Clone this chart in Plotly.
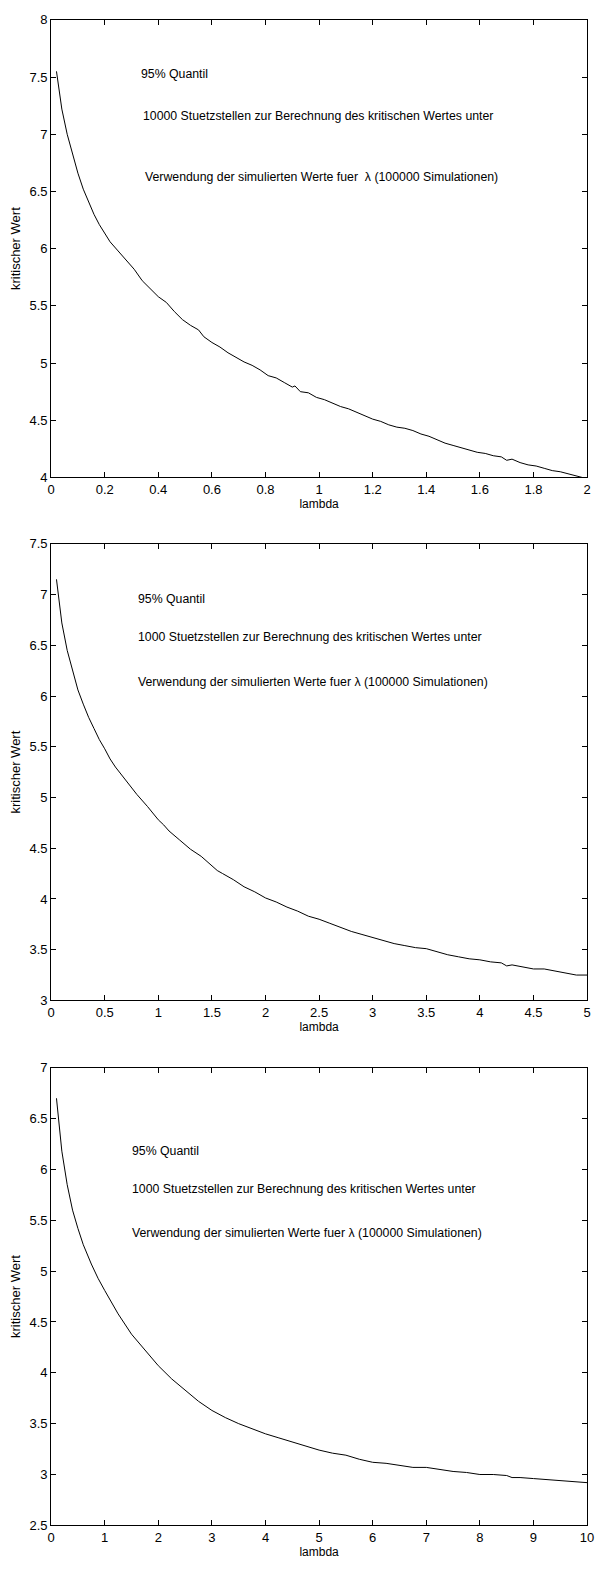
import plotly.graph_objects as go

# Critical value curves (95% quantile) against lambda, three lambda ranges
lam_a = [0.02, 0.04, 0.06, 0.08, 0.10, 0.12, 0.14, 0.16, 0.18, 0.20, 0.22, 0.25, 0.28,
         0.31, 0.34, 0.37, 0.40, 0.43, 0.46, 0.49, 0.52, 0.55, 0.57, 0.60, 0.63, 0.66,
         0.69, 0.72, 0.75, 0.78, 0.81, 0.84, 0.87, 0.90, 0.91, 0.93, 0.96, 0.99, 1.02,
         1.05, 1.08, 1.11, 1.14, 1.17, 1.20, 1.23, 1.26, 1.29, 1.32, 1.35, 1.38, 1.41,
         1.44, 1.47, 1.50, 1.53, 1.56, 1.59, 1.62, 1.65, 1.68, 1.70, 1.72, 1.75, 1.78,
         1.81, 1.84, 1.87, 1.90, 1.93, 1.96, 1.99]
krit_a = [7.55, 7.22, 7.00, 6.82, 6.66, 6.52, 6.41, 6.30, 6.21, 6.13, 6.06, 5.98, 5.90,
          5.82, 5.72, 5.65, 5.58, 5.53, 5.45, 5.38, 5.33, 5.29, 5.23, 5.18, 5.14, 5.09,
          5.05, 5.01, 4.98, 4.94, 4.89, 4.87, 4.83, 4.79, 4.80, 4.75, 4.74, 4.70, 4.68,
          4.65, 4.62, 4.60, 4.57, 4.54, 4.51, 4.49, 4.46, 4.44, 4.43, 4.41, 4.38, 4.36,
          4.33, 4.30, 4.28, 4.26, 4.24, 4.22, 4.21, 4.19, 4.18, 4.15, 4.16, 4.13, 4.11,
          4.10, 4.08, 4.06, 4.05, 4.03, 4.01, 3.995]

lam_b = [0.05, 0.1, 0.15, 0.2, 0.25, 0.3, 0.35, 0.4, 0.45, 0.5, 0.55, 0.6, 0.7, 0.8,
         0.9, 1.0, 1.05, 1.1, 1.2, 1.3, 1.4, 1.5, 1.55, 1.6, 1.7, 1.8, 1.9, 2.0, 2.1,
         2.2, 2.3, 2.4, 2.5, 2.6, 2.7, 2.8, 2.9, 3.0, 3.1, 3.2, 3.3, 3.4, 3.5, 3.6, 3.7,
         3.8, 3.9, 4.0, 4.1, 4.2, 4.25, 4.3, 4.4, 4.5, 4.6, 4.7, 4.8, 4.9, 5.0]
krit_b = [7.15, 6.72, 6.45, 6.25, 6.06, 5.92, 5.79, 5.68, 5.57, 5.48, 5.38, 5.30, 5.16,
          5.03, 4.91, 4.78, 4.73, 4.67, 4.58, 4.49, 4.42, 4.32, 4.28, 4.25, 4.19, 4.12,
          4.07, 4.01, 3.97, 3.92, 3.88, 3.83, 3.80, 3.76, 3.72, 3.68, 3.65, 3.62, 3.59,
          3.56, 3.54, 3.52, 3.51, 3.48, 3.45, 3.43, 3.41, 3.40, 3.38, 3.37, 3.34, 3.35,
          3.33, 3.31, 3.31, 3.29, 3.27, 3.25, 3.25]

lam_c = [0.1, 0.2, 0.3, 0.4, 0.5, 0.6, 0.75, 0.875, 1.0, 1.25, 1.5, 1.75, 2.0, 2.25,
         2.5, 2.75, 3.0, 3.25, 3.5, 3.75, 4.0, 4.25, 4.5, 4.75, 5.0, 5.25, 5.5, 5.75,
         6.0, 6.25, 6.5, 6.75, 7.0, 7.25, 7.5, 7.75, 8.0, 8.25, 8.5, 8.6, 8.75, 9.0,
         9.25, 9.5, 9.75, 10.0]
krit_c = [6.70, 6.18, 5.85, 5.60, 5.42, 5.26, 5.07, 4.93, 4.81, 4.58, 4.38, 4.22, 4.07,
          3.94, 3.83, 3.72, 3.63, 3.56, 3.50, 3.45, 3.40, 3.36, 3.32, 3.28, 3.24, 3.21,
          3.19, 3.15, 3.12, 3.11, 3.09, 3.07, 3.07, 3.05, 3.03, 3.02, 3.00, 3.00, 2.99,
          2.97, 2.97, 2.96, 2.95, 2.94, 2.93, 2.92]

panels = [
    dict(x=lam_a, y=krit_a, xr=[0, 2], xd=0.2, yr=[4, 8], yd=0.5, top=13, bot=475,
         lines=["95% Quantil",
                "10000 Stuetzstellen zur Berechnung des kritischen Wertes unter",
                "Verwendung der simulierten Werte fuer  λ (100000 Simulationen)"],
         tx=[138, 140, 142], ty=[68, 110, 172]),
    dict(x=lam_b, y=krit_b, xr=[0, 5], xd=0.5, yr=[3, 7.5], yd=0.5, top=542, bot=1003,
         lines=["95% Quantil",
                "1000 Stuetzstellen zur Berechnung des kritischen Wertes unter",
                "Verwendung der simulierten Werte fuer λ (100000 Simulationen)"],
         tx=[134, 134, 134], ty=[598, 636, 682]),
    dict(x=lam_c, y=krit_c, xr=[0, 10], xd=1, yr=[2.5, 7], yd=0.5, top=1071, bot=1533,
         lines=["95% Quantil",
                "1000 Stuetzstellen zur Berechnung des kritischen Wertes unter",
                "Verwendung der simulierten Werte fuer λ (100000 Simulationen)"],
         tx=[128, 128, 128], ty=[1155, 1193, 1238]),
]

W, H = 598, 1570
FONT = "Liberation Sans, Arial, sans-serif"
fig = go.Figure()
annotations = []
layout = {}

for i, p in enumerate(panels):
    n = "" if i == 0 else str(i + 1)
    fig.add_trace(go.Scatter(x=p["x"], y=p["y"], mode="lines",
                             line=dict(color="black", width=1),
                             xaxis="x" + n, yaxis="y" + n, showlegend=False))
    axis_common = dict(showline=True, linecolor="black", linewidth=1, mirror="allticks",
                       ticks="inside", ticklen=5, tickcolor="black", tickwidth=1,
                       showgrid=False, zeroline=False,
                       tickfont=dict(family=FONT, size=13, color="black"))
    layout["xaxis" + n] = dict(axis_common, range=p["xr"], dtick=p["xd"], tick0=0,
                               anchor="y" + n, domain=[48 / W, 594 / W],
                               title=dict(text="lambda", standoff=1,
                                          font=dict(family=FONT, size=12, color="black")))
    layout["yaxis" + n] = dict(axis_common, range=p["yr"], dtick=p["yd"], tick0=0,
                               anchor="x" + n,
                               domain=[1 - p["bot"] / H, 1 - p["top"] / H],
                               title=dict(text="kritischer Wert", standoff=5,
                                          font=dict(family=FONT, size=13, color="black")))
    for txt, ax, ay in zip(p["lines"], p["tx"], p["ty"]):
        annotations.append(dict(text=txt, x=ax / W, y=1 - ay / H, xref="paper",
                                yref="paper", xanchor="left", yanchor="middle",
                                showarrow=False,
                                font=dict(family=FONT, size=12.3, color="black")))

fig.update_layout(width=W, height=H, margin=dict(l=0, r=0, t=0, b=0),
                  paper_bgcolor="white", plot_bgcolor="white",
                  annotations=annotations, **layout)
fig.write_html("out.html")
